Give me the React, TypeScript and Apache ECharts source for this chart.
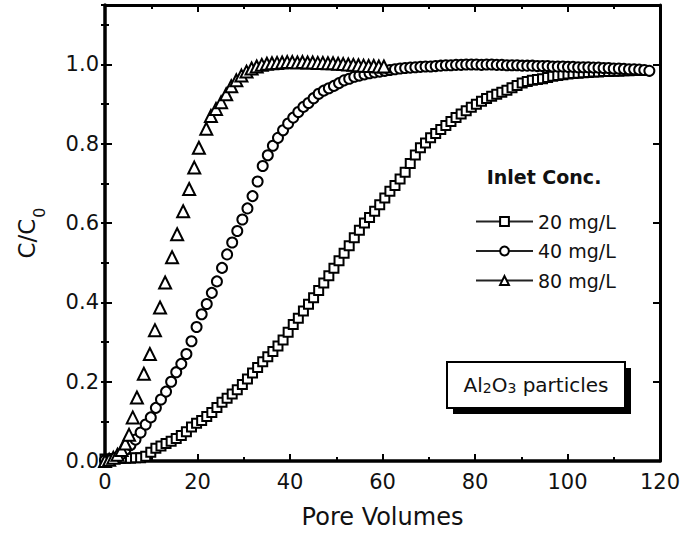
import React, { useEffect, useRef } from "react";
import * as echarts from "echarts";

// Breakthrough curves: relative concentration vs pore volumes
const pv20 = [
  0.0, 1.1, 2.2, 3.3, 4.4, 5.5, 6.6, 7.7, 8.8, 9.9, 11.0, 12.1, 13.2, 14.3, 15.4, 16.5, 17.6, 18.7, 19.8, 20.9,
  22.0, 23.1, 24.2, 25.3, 26.4, 27.5, 28.6, 29.7, 30.8, 31.9, 33.0, 34.1, 35.2, 36.3, 37.4, 38.5, 39.6, 40.7, 41.8, 42.9,
  44.0, 45.1, 46.2, 47.3, 48.4, 49.5, 50.6, 51.7, 52.8, 53.9, 55.0, 56.1, 57.2, 58.3, 59.4, 60.5, 61.6, 62.7, 63.8, 64.9,
  66.0, 67.1, 68.2, 69.3, 70.4, 71.5, 72.6, 73.7, 74.8, 75.9, 77.0, 78.1, 79.2, 80.3, 81.4, 82.5, 83.6, 84.7, 85.8, 86.9,
  88.0, 89.1, 90.2, 91.3, 92.4, 93.5, 94.6, 95.7, 96.8, 97.9, 99.0, 100.1, 101.2, 102.3, 103.4, 104.5, 105.6, 106.7, 107.8, 108.9,
  110.0, 111.1, 112.2, 113.3, 114.4, 115.5, 116.6,
];
const c20 = [
  0.005, 0.005, 0.006, 0.006, 0.007, 0.007, 0.008, 0.008, 0.012, 0.022, 0.032, 0.038, 0.044, 0.05, 0.057, 0.064, 0.074, 0.086, 0.095, 0.102,
  0.112, 0.122, 0.135, 0.148, 0.158, 0.169, 0.18, 0.193, 0.207, 0.222, 0.236, 0.25, 0.263, 0.276, 0.29, 0.305, 0.325, 0.344, 0.36, 0.378,
  0.395, 0.412, 0.43, 0.449, 0.467, 0.486, 0.505, 0.524, 0.543, 0.563, 0.582, 0.6, 0.614, 0.63, 0.646, 0.663, 0.68, 0.695, 0.711, 0.728,
  0.75, 0.772, 0.79, 0.802, 0.815, 0.826, 0.836, 0.846, 0.856, 0.866, 0.875, 0.883, 0.892, 0.9, 0.907, 0.914, 0.92, 0.925, 0.93, 0.935,
  0.941, 0.947, 0.953, 0.957, 0.96, 0.962, 0.964, 0.967, 0.97, 0.972, 0.974, 0.976, 0.977, 0.978, 0.979, 0.98, 0.981, 0.981, 0.982, 0.982,
  0.983, 0.983, 0.984, 0.984, 0.985, 0.985, 0.985,
];

const pv40 = [
  0.0, 1.1, 2.2, 3.3, 4.4, 5.5, 6.6, 7.7, 8.8, 9.9, 11.0, 12.1, 13.2, 14.3, 15.4, 16.5, 17.6, 18.7, 19.8, 20.9,
  22.0, 23.1, 24.2, 25.3, 26.4, 27.5, 28.6, 29.7, 30.8, 31.9, 33.0, 34.1, 35.2, 36.3, 37.4, 38.5, 39.6, 40.7, 41.8, 42.9,
  44.0, 45.1, 46.2, 47.3, 48.4, 49.5, 50.6, 51.7, 52.8, 53.9, 55.0, 56.1, 57.2, 58.3, 59.4, 60.5, 61.6, 62.7, 63.8, 64.9,
  66.0, 67.1, 68.2, 69.3, 70.4, 71.5, 72.6, 73.7, 74.8, 75.9, 77.0, 78.1, 79.2, 80.3, 81.4, 82.5, 83.6, 84.7, 85.8, 86.9,
  88.0, 89.1, 90.2, 91.3, 92.4, 93.5, 94.6, 95.7, 96.8, 97.9, 99.0, 100.1, 101.2, 102.3, 103.4, 104.5, 105.6, 106.7, 107.8, 108.9,
  110.0, 111.1, 112.2, 113.3, 114.4, 115.5, 116.6, 117.7,
];
const c40 = [
  0.002, 0.004, 0.008, 0.015, 0.028, 0.04, 0.054, 0.072, 0.092, 0.11, 0.134, 0.155, 0.175, 0.2, 0.224, 0.245, 0.27, 0.302, 0.338, 0.37,
  0.396, 0.424, 0.453, 0.487, 0.521, 0.551, 0.58, 0.609, 0.637, 0.668, 0.705, 0.744, 0.771, 0.795, 0.815, 0.834, 0.851, 0.866, 0.88, 0.893,
  0.903, 0.915, 0.926, 0.934, 0.94, 0.946, 0.953, 0.96, 0.964, 0.969, 0.972, 0.975, 0.978, 0.98, 0.982, 0.984, 0.986, 0.988, 0.99, 0.991,
  0.992, 0.993, 0.994, 0.995, 0.995, 0.996, 0.997, 0.998, 0.998, 0.999, 0.999, 1.0, 1.0, 1.0, 0.999, 1.0, 1.0, 0.999, 0.999, 0.998,
  0.998, 0.998, 0.997, 0.997, 0.997, 0.996, 0.996, 0.996, 0.995, 0.995, 0.995, 0.994, 0.994, 0.993, 0.993, 0.993, 0.992, 0.992, 0.991, 0.991,
  0.99, 0.99, 0.989, 0.988, 0.988, 0.987, 0.986, 0.984,
];

const pv80 = [
  0.0, 0.9, 1.8, 2.7, 3.6, 4.4, 5.2, 6.0, 6.9, 8.4, 9.7, 10.8, 11.9, 13.0, 14.5, 15.6, 16.9, 18.2, 19.3, 20.3,
  21.9, 22.9, 24.0, 25.1, 26.2, 27.3, 28.4, 29.5, 30.6, 31.7, 32.8, 33.9, 35.0, 36.1, 37.2, 38.3, 39.4, 40.5, 41.6, 42.7,
  43.8, 44.9, 46.0, 47.1, 48.2, 49.3, 50.4, 51.5, 52.6, 53.7, 54.8, 55.9, 57.0, 58.1, 59.2, 60.3,
];
const c80 = [
  0.0, 0.003, 0.008, 0.016, 0.028, 0.044, 0.066, 0.11, 0.16, 0.22, 0.27, 0.33, 0.387, 0.45, 0.514, 0.572, 0.63, 0.686, 0.74, 0.79,
  0.838, 0.87, 0.888, 0.905, 0.925, 0.945, 0.96, 0.972, 0.982, 0.99, 0.995, 0.999, 1.002, 1.003, 1.004, 1.005, 1.006, 1.006, 1.005, 1.006,
  1.005, 1.005, 1.004, 1.004, 1.003, 1.003, 1.002, 1.001, 1.0, 0.999, 0.998, 0.997, 0.996, 0.996, 0.995, 0.995,
];

const seriesNames = ["20 mg/L", "40 mg/L", "80 mg/L"];
const xTicks = { min: 0, max: 120, major: 20 };
const yTicks = { min: 0, max: 1.15, major: 0.2, minor: 0.1 };

const FONT = "DejaVu Sans";

const pairs = (xs: number[], ys: number[]) => xs.map((x, i) => [x, ys[i]]);

const hollow = { color: "#fff", borderColor: "#000", borderWidth: 2, opacity: 1 };

function buildOption(): echarts.EChartsOption {
  const grid = { left: 105, right: 25, top: 5, bottom: 79 };
  const frameLine = (w: number) => ({ show: true, onZero: false, lineStyle: { color: "#000", width: w } });

  const yLabelFmt = (v: number) =>
    Math.abs(v / yTicks.major - Math.round(v / yTicks.major)) < 1e-6 ? v.toFixed(1) : "";

  const yBase = {
    type: "value" as const,
    min: yTicks.min,
    max: yTicks.max,
    splitLine: { show: false },
  };

  const mkSeries = (name: string, xs: number[], ys: number[], symbol: string, size: number) => ({
    name,
    type: "line" as const,
    data: pairs(xs, ys),
    symbol,
    symbolSize: size,
    showSymbol: true,
    showAllSymbol: true,
    lineStyle: { width: 0, opacity: 0 },
    itemStyle: hollow,
    emphasis: { disabled: true },
    silent: true,
  });

  return {
    animation: false,
    backgroundColor: "#fff",
    textStyle: { fontFamily: FONT, color: "#111" },
    grid,
    xAxis: [
      {
        type: "value",
        position: "bottom",
        min: xTicks.min,
        max: xTicks.max,
        interval: xTicks.major,
        axisLine: frameLine(3.5),
        axisTick: { show: true, inside: true, length: 7, lineStyle: { width: 2, color: "#000" } },
        minorTick: { show: true, splitNumber: 2, length: 4, lineStyle: { width: 2, color: "#000" } },
        splitLine: { show: false },
        minorSplitLine: { show: false },
        axisLabel: { fontSize: 21, fontFamily: FONT, color: "#111", margin: 10 },
        name: "Pore Volumes",
        nameLocation: "middle",
        nameGap: 44,
        nameTextStyle: { fontSize: 24, fontFamily: FONT, color: "#111" },
      },
      {
        type: "value",
        position: "top",
        min: xTicks.min,
        max: xTicks.max,
        interval: xTicks.major,
        axisLine: frameLine(3),
        axisTick: { show: true, inside: true, length: 7, lineStyle: { width: 2, color: "#000" } },
        minorTick: { show: true, splitNumber: 2, length: 4, lineStyle: { width: 2, color: "#000" } },
        splitLine: { show: false },
        axisLabel: { show: false },
      },
    ],
    yAxis: [
      {
        ...yBase,
        position: "left",
        interval: yTicks.major,
        axisLine: frameLine(3.5),
        axisTick: { show: true, inside: true, length: 7, lineStyle: { width: 2, color: "#000" } },
        axisLabel: { fontSize: 21, fontFamily: FONT, color: "#111", margin: 6, formatter: yLabelFmt },
        name: "{a|C/C}{b|0}",
        nameLocation: "middle",
        nameGap: 58,
        nameTextStyle: {
          fontFamily: FONT,
          color: "#111",
          rich: {
            a: { fontSize: 23, fontFamily: FONT, color: "#111", lineHeight: 32, verticalAlign: "top" },
            b: { fontSize: 16, fontFamily: FONT, color: "#111", lineHeight: 16, verticalAlign: "bottom", padding: [0, 0, 0, 1] },
          },
        },
      },
      {
        ...yBase,
        position: "right",
        interval: yTicks.major,
        axisLine: frameLine(3),
        axisTick: { show: true, inside: true, length: 7, lineStyle: { width: 2, color: "#000" } },
        axisLabel: { show: false },
      },
      {
        ...yBase,
        position: "left",
        interval: yTicks.minor,
        axisLine: { show: false },
        axisTick: { show: true, inside: true, length: 4, lineStyle: { width: 2, color: "#000" } },
        axisLabel: { show: false },
      },
      {
        ...yBase,
        position: "right",
        interval: yTicks.minor,
        axisLine: { show: false },
        axisTick: { show: true, inside: true, length: 4, lineStyle: { width: 2, color: "#000" } },
        axisLabel: { show: false },
      },
    ],
    legend: {
      orient: "vertical",
      left: 470,
      top: 207,
      itemGap: 10.5,
      itemWidth: 57,
      itemHeight: 11,
      data: seriesNames,
      selectedMode: false,
      lineStyle: { width: 2, color: "#222", opacity: 1, type: "solid" },
      textStyle: { fontSize: 19, fontFamily: FONT, color: "#111" },
    },
    graphic: [
      {
        type: "text",
        x: 544,
        y: 177,
        style: {
          text: "Inlet Conc.",
          fontSize: 19,
          fontWeight: "bold",
          fontFamily: FONT,
          fill: "#111",
          textAlign: "center",
          textVerticalAlign: "middle",
        },
      },
      {
        type: "group",
        children: [
          { type: "rect", shape: { x: 453, y: 368, width: 178, height: 46 }, style: { fill: "#000" } },
          { type: "rect", shape: { x: 447, y: 362, width: 178, height: 46 }, style: { fill: "#fff", stroke: "#000", lineWidth: 2 } },
          {
            type: "text",
            x: 536,
            y: 385,
            style: {
              text: "Al{s|2}O{s|3} particles",
              fontSize: 20,
              fontFamily: FONT,
              fill: "#111",
              textAlign: "center",
              textVerticalAlign: "middle",
              rich: {
                s: { fontSize: 14, fontFamily: FONT, fill: "#111", lineHeight: 14, verticalAlign: "bottom" },
              },
            } as any,
          },
        ],
      },
    ],
    series: [
      mkSeries(seriesNames[0], pv20, c20, "rect", 9),
      mkSeries(seriesNames[1], pv40, c40, "circle", 10),
      mkSeries(seriesNames[2], pv80, c80, "triangle", 12),
    ],
  } as echarts.EChartsOption;
}

export default function App() {
  const ref = useRef<HTMLDivElement>(null);
  useEffect(() => {
    document.body.style.margin = "0";
    const chart = echarts.init(ref.current!, null, { renderer: "svg" });
    chart.setOption(buildOption());
    return () => chart.dispose();
  }, []);
  return <div ref={ref} style={{ width: 685, height: 540 }} />;
}
